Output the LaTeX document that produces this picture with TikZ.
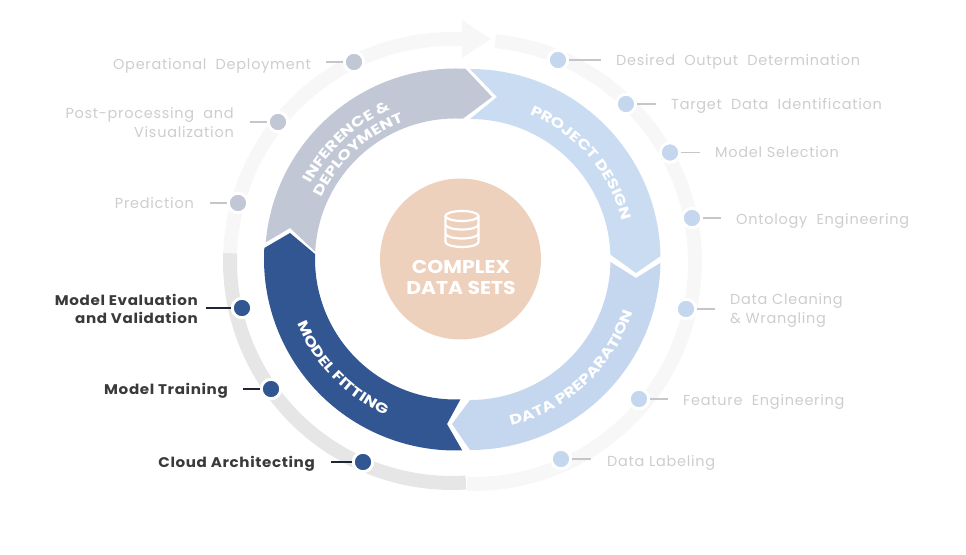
\documentclass[tikz,border=0pt]{standalone}
\usepackage{fontspec}
\setmainfont{Poppins}
\newfontfamily\lblf[LetterSpace=5]{Poppins}
\newfontfamily\boldf[FakeStretch=1.08,LetterSpace=4.5]{Poppins}
\newfontfamily\segf[FakeStretch=1.24]{Poppins}
\newfontfamily\coref[FakeStretch=1.1]{Poppins}
\usetikzlibrary{calc,decorations.text}
\definecolor{cgrey}{HTML}{C1C7D5}
\definecolor{cproj}{HTML}{C9DCF1}
\definecolor{cprep}{HTML}{C4D7EF}
\definecolor{cnavy}{HTML}{325691}
\definecolor{cpeach}{HTML}{EED1BD}
\definecolor{cringl}{HTML}{F7F7F7}
\definecolor{cringd}{HTML}{E6E6E6}
\definecolor{ctxt}{HTML}{CDCDCD}
\definecolor{cdark}{HTML}{3A3A3A}
\definecolor{cline}{HTML}{C6C6CA}
\definecolor{cdline}{HTML}{1F2533}
\tikzset{
  x=1pt,y=1pt,
  ringband/.style={line width=14pt,line cap=butt},
  dotn/.style={circle,inner sep=0pt,minimum size=19.5pt,line width=3pt,draw=white,fill=#1},
  lbl/.style={font=\lblf\fontsize{14.5}{19}\selectfont,text=ctxt,inner sep=0pt},
  lbd/.style={font=\boldf\fontsize{14}{18}\selectfont\bfseries,text=cdark,inner sep=0pt},
  conl/.style={line width=1.6pt,draw=cline},
  cond/.style={line width=1.6pt,draw=cdline},
  ctext/.style={font=\coref\fontsize{18.5}{21}\selectfont\bfseries,text=white,align=center,inner sep=0pt},
}
\newcommand{\segfont}{\segf\fontsize{14}{14}\selectfont\bfseries\color{white}}
\begin{document}
\begin{tikzpicture}
\useasboundingbox (0,0) rectangle (966,554);
\coordinate (cR) at (470,294.5);
\coordinate (cL) at (455.5,295);
\coordinate (oR) at (473,292);
\coordinate (oL) at (452,293);
% outer ring
\draw[ringband,cringl] ($(oL)+(178:222pt)$) arc[start angle=178,end angle=87.4,radius=222pt];
\fill[cringl] (462,534) -- (491,515) -- (462,496) -- cycle;
\draw[ringband,cringd] ($(oL)+(178:222pt)$) arc[start angle=178,end angle=273.6,radius=222pt];
\draw[ringband,cringl] ($(oR)+(84.3:222pt)$) arc[start angle=84.3,end angle=-91.5,radius=222pt];
% segments
\fill[cproj] ($(cR)+(90:190.5pt)$) arc[start angle=90,end angle=1,radius=190.5pt] -- (636,281)
  -- ($(cR)+(2:140.5pt)$) arc[start angle=2,end angle=90,radius=140.5pt] -- (497,457) -- cycle;
\fill[cprep] ($(cR)+(-1:190.5pt)$) arc[start angle=-1,end angle=-90,radius=190.5pt] -- (452,130)
  -- ($(cR)+(-90:140.5pt)$) arc[start angle=-90,end angle=-1,radius=140.5pt] -- (636,276) -- cycle;
\fill[cgrey] ($(cL)+(175:190.5pt)$) arc[start angle=175,end angle=87,radius=190.5pt] -- (492,457)
  -- ($(cL)+(87:140.5pt)$) arc[start angle=87,end angle=177,radius=140.5pt] -- (290,326) -- cycle;
\fill[cnavy] ($(cL)+(176.7:191.5pt)$) arc[start angle=176.7,end angle=272,radius=191.5pt] -- (447,130)
  -- ($(cL)+(272:140.5pt)$) arc[start angle=272,end angle=178,radius=140.5pt] -- (290,321) -- cycle;
% segment text
\path[decorate,decoration={text along path,text align=center,text={|\segfont|PROJECT DESIGN}}]
  ($(cR)+(76:157pt)$) arc[start angle=76,end angle=6,radius=157pt];
\path[decorate,decoration={text along path,text align=center,text={|\segfont|DATA PREPARATION}}]
  ($(cR)+(273:171pt)$) arc[start angle=273,end angle=353,radius=171pt];
\path[decorate,decoration={text along path,text align=center,text={|\segfont|MODEL FITTING}}]
  ($(cL)+(194:171pt)$) arc[start angle=194,end angle=254,radius=171pt];
\path[decorate,decoration={text along path,text align=center,text={|\segfont|INFERENCE {\&}}}]
  ($(cL)+(163:163pt)$) arc[start angle=163,end angle=103,radius=163pt];
\path[decorate,decoration={text along path,text align=center,text={|\segfont|DEPLOYMENT}}]
  ($(cL)+(163:147pt)$) arc[start angle=163,end angle=103,radius=147pt];
% centre
\node[circle,fill=cpeach,minimum size=161pt,inner sep=0pt] (core) at (460.5,295) {};
\node[ctext] (coretxt) at (461,276.5) {COMPLEX\\DATA SETS};
\begin{scope}[draw=white,line width=2.2pt]
  \draw (462,338) ellipse [x radius=16.5pt,y radius=5pt];
  \draw (445.5,338) -- (445.5,312) arc[start angle=180,end angle=360,x radius=16.5pt,y radius=5pt] -- (478.5,338);
  \draw (445.5,329.5) arc[start angle=180,end angle=360,x radius=16.5pt,y radius=5pt];
  \draw (445.5,320.5) arc[start angle=180,end angle=360,x radius=16.5pt,y radius=5pt];
\end{scope}
% dots
\node[dotn=cgrey] (d1) at (354,492) {};
\node[dotn=cgrey] (d2) at (278,432) {};
\node[dotn=cgrey] (d3) at (238,351) {};
\node[dotn=cnavy] (d4) at (242,246) {};
\node[dotn=cnavy] (d5) at (271,165) {};
\node[dotn=cnavy] (d6) at (363,92) {};
\node[dotn=cprep] (d7) at (558,494) {};
\node[dotn=cprep] (d8) at (626,450) {};
\node[dotn=cprep] (d9) at (670,401.5) {};
\node[dotn=cprep] (d10) at (692,336) {};
\node[dotn=cprep] (d11) at (686,245) {};
\node[dotn=cprep] (d12) at (639,155) {};
\node[dotn=cprep] (d13) at (561,95) {};
% connector ends
\coordinate (e1) at (326,492);
\coordinate (e2) at (250,432);
\coordinate (e3) at (210,351);
\coordinate (e4) at (206,246);
\coordinate (e5) at (243,165);
\coordinate (e6) at (331,92);
\coordinate (e7) at (601,494);
\coordinate (e8) at (656,450);
\coordinate (e9) at (699.5,401.5);
\coordinate (e10) at (721,336);
\coordinate (e11) at (715,245);
\coordinate (e12) at (668,155);
\coordinate (e13) at (591,95);
\foreach \i in {1,2,3,7,8,9,10,11,12,13}{\draw[conl] (d\i) -- (e\i);}
\foreach \i in {4,5,6}{\draw[cond] (d\i) -- (e\i);}
% labels
\node[lbl,anchor=east] (l1) at (311,488) {Operational\ \ Deployment};
\node[lbl,anchor=east,align=right] (l2) at (234,431) {Post-processing\ \ and\\Visualization};
\node[lbl,anchor=east] (l3) at (194,351) {Prediction};
\node[lbd,anchor=east,align=right] (l4) at (198,245) {Model Evaluation\\and Validation};
\node[lbd,anchor=east] (l5) at (228,163) {Model Training};
\node[lbd,anchor=east] (l6) at (315,90) {Cloud Architecting};
\node[lbl,anchor=west] (l7) at (616,492) {Desired\ \ Output\ \ Determination};
\node[lbl,anchor=west] (l8) at (671,448) {Target\ \ Data\ \ Identification};
\node[lbl,anchor=west] (l9) at (715,402) {Model Selection};
\node[lbl,anchor=west] (l10) at (736,333) {Ontology\ \ Engineering};
\node[lbl,anchor=west,align=left] (l11) at (730,243.5) {Data Cleaning\\\& Wrangling};
\node[lbl,anchor=west] (l12) at (683,152) {Feature\ \ Engineering};
\node[lbl,anchor=west] (l13) at (607,91) {Data Labeling};
\end{tikzpicture}
\end{document}
